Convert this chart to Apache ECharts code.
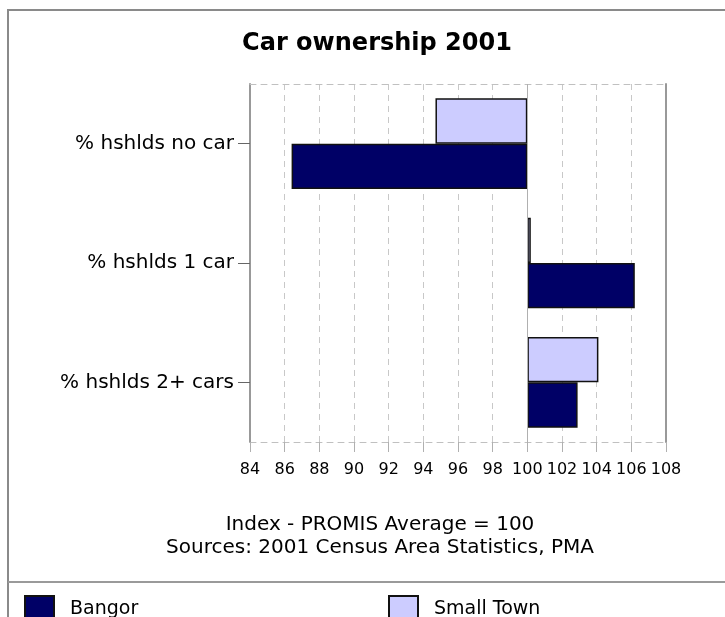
<!DOCTYPE html>
<html>
<head>
<meta charset="utf-8">
<script src="https://cdn.jsdelivr.net/npm/echarts@6/dist/echarts.min.js"></script>
<style>
html,body{margin:0;padding:0;background:#fff;}
#chart{width:725px;height:617px;}
</style>
</head>
<body>
<div id="chart"></div>
<script>
var categories = ['% hshlds no car', '% hshlds 1 car', '% hshlds 2+ cars'];
var bangor = [86.4, 106.2, 102.9];
var smallTown = [94.7, 100.2, 104.1];
var baseline = 100;
var xTicksMin = 84, xTicksMax = 108, xTickStep = 2;

var FONT = 'DejaVu Sans';
var chart = echarts.init(document.getElementById('chart'));

function rel(arr) { return arr.map(function (v) { return +(v - baseline).toFixed(2); }); }

var option = {
  animation: false,
  backgroundColor: '#fff',
  title: [
    { text: 'Car ownership 2001', left: 372, top: 27, textAlign: 'center',
      textStyle: { fontFamily: FONT, fontWeight: 'bold', fontSize: 24, color: '#000' } },
    { text: 'Index - PROMIS Average = 100', left: 375, top: 510, textAlign: 'center',
      textStyle: { fontFamily: FONT, fontWeight: 'normal', fontSize: 20, color: '#000' } },
    { text: 'Sources: 2001 Census Area Statistics, PMA', left: 375, top: 533, textAlign: 'center',
      textStyle: { fontFamily: FONT, fontWeight: 'normal', fontSize: 20, color: '#000' } }
  ],
  legend: [
    { data: ['Bangor'], left: 19, top: 590, itemWidth: 29, itemHeight: 27, icon: 'rect',
      textStyle: { fontFamily: FONT, fontSize: 19, color: '#000', padding: [0, 0, 0, 11] } },
    { data: ['Small Town'], left: 383, top: 590, itemWidth: 29, itemHeight: 27, icon: 'rect',
      textStyle: { fontFamily: FONT, fontSize: 19, color: '#000', padding: [0, 0, 0, 11] } }
  ],
  grid: { left: 250, right: 59, top: 84, bottom: 175, containLabel: false },
  xAxis: [
    { type: 'value', min: xTicksMin - baseline, max: xTicksMax - baseline, interval: xTickStep,
      axisLine: { show: true, onZero: false, lineStyle: { color: '#c0c0c0', type: [6, 5], width: 1 } },
      axisTick: { show: true, length: 10, lineStyle: { color: '#b0b0b0' } },
      axisLabel: { margin: 20, fontFamily: FONT, fontSize: 16, color: '#000',
        formatter: function (v) { return String(v + baseline); } },
      splitLine: { show: true, lineStyle: { color: '#c8c8c8', type: [6, 5], width: 1 } } },
    { type: 'value', position: 'top', min: xTicksMin - baseline, max: xTicksMax - baseline, interval: xTickStep,
      axisLine: { show: true, onZero: false, lineStyle: { color: '#c0c0c0', type: [6, 5], width: 1 } },
      axisTick: { show: false }, axisLabel: { show: false }, splitLine: { show: false } }
  ],
  yAxis: [
    { type: 'category', data: categories, inverse: true,
      axisLine: { show: true, onZero: false, lineStyle: { color: '#999', width: 2 } },
      axisTick: { show: true, alignWithLabel: true, length: 12, lineStyle: { color: '#666' } },
      axisLabel: { margin: 16, fontFamily: FONT, fontSize: 20, color: '#000' } },
    { type: 'category', data: categories, inverse: true, position: 'right',
      axisLine: { show: true, onZero: false, lineStyle: { color: '#999', width: 2 } },
      axisTick: { show: false }, axisLabel: { show: false } }
  ],
  series: [
    { name: 'Small Town', type: 'bar', data: rel(smallTown), barGap: '0%', barCategoryGap: '24%',
      itemStyle: { color: '#ccccff', borderColor: '#111', borderWidth: 1.5 },
      markLine: { silent: true, symbol: 'none', label: { show: false },
        lineStyle: { color: '#b0b0b0', type: 'solid', width: 1 },
        data: [{ xAxis: 0 }] } },
    { name: 'Bangor', type: 'bar', data: rel(bangor), barGap: '0%', barCategoryGap: '24%',
      itemStyle: { color: '#000066', borderColor: '#111', borderWidth: 1.5 } }
  ],
  graphic: [
    { type: 'rect', shape: { x: 8, y: 10, width: 740, height: 640 }, silent: true,
      style: { fill: 'none', stroke: '#8a8a8a', lineWidth: 2 } },
    { type: 'line', shape: { x1: 8, y1: 582, x2: 725, y2: 582 }, silent: true,
      style: { stroke: '#9a9a9a', lineWidth: 2 } }
  ]
};
chart.setOption(option);
</script>
</body>
</html>
